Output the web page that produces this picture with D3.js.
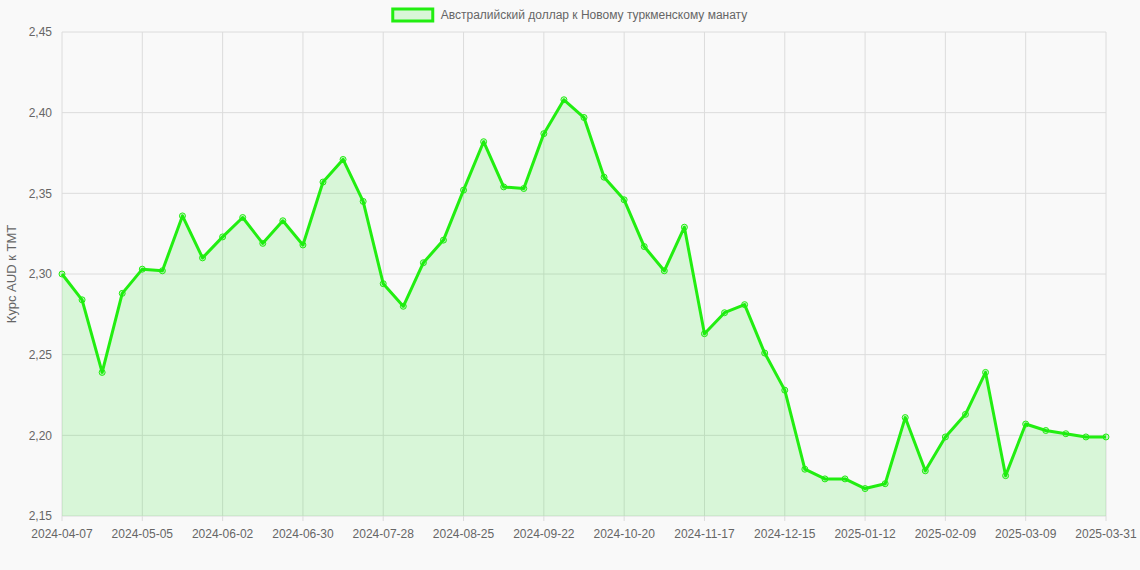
<!DOCTYPE html>
<html><head><meta charset="utf-8">
<script src="https://cdn.jsdelivr.net/npm/d3@7"></script>
<style>body{margin:0;background:#f9f9f9;font-family:"Helvetica Neue",Arial,"Liberation Sans",sans-serif}</style>
</head><body><div id="chart"></div>
<script>
const dates = ['2024-04-07','2024-04-14','2024-04-21','2024-04-28','2024-05-05','2024-05-12','2024-05-19','2024-05-26',
 '2024-06-02','2024-06-09','2024-06-16','2024-06-23','2024-06-30','2024-07-07','2024-07-14','2024-07-21',
 '2024-07-28','2024-08-04','2024-08-11','2024-08-18','2024-08-25','2024-09-01','2024-09-08','2024-09-15',
 '2024-09-22','2024-09-29','2024-10-06','2024-10-13','2024-10-20','2024-10-27','2024-11-03','2024-11-10',
 '2024-11-17','2024-11-24','2024-12-01','2024-12-08','2024-12-15','2024-12-22','2024-12-29','2025-01-05',
 '2025-01-12','2025-01-19','2025-01-26','2025-02-02','2025-02-09','2025-02-16','2025-02-23','2025-03-02',
 '2025-03-09','2025-03-16','2025-03-23','2025-03-30','2025-03-31']
const rates = [2.300,2.284,2.239,2.288,2.303,2.302,2.336,2.310,2.323,2.335,2.319,2.333,2.318,2.357,2.371,2.345,
 2.294,2.280,2.307,2.321,2.352,2.382,2.354,2.353,2.387,2.408,2.397,2.360,2.346,2.317,2.302,2.329,
 2.263,2.276,2.281,2.251,2.228,2.179,2.173,2.173,2.167,2.170,2.211,2.178,2.199,2.213,2.239,2.175,
 2.207,2.203,2.201,2.199,2.199]
const yTicks = [2.15,2.20,2.25,2.30,2.35,2.40,2.45]
const seriesName = 'Австралийский доллар к Новому туркменскому манату'

const W = 1140, H = 570, m = {l:62, r:34, t:32, b:54}
const svg = d3.select('#chart').append('svg').attr('width', W).attr('height', H)
const x = d3.scalePoint().domain(dates).range([m.l, W - m.r])
const y = d3.scaleLinear().domain([2.15, 2.45]).range([H - m.b, m.t])
const fmt = v => d3.format('.2f')(v).replace('.', ',')
const xLabels = dates.filter((d, i) => i % 4 === 0 || i === dates.length - 1)

// grid
svg.append('g').selectAll('line').data(yTicks).join('line')
  .attr('x1', m.l).attr('x2', W - m.r).attr('y1', d => y(d)).attr('y2', d => y(d))
  .attr('stroke', '#dcdcdc')
svg.append('g').selectAll('line').data(xLabels).join('line')
  .attr('x1', d => x(d)).attr('x2', d => x(d)).attr('y1', m.t).attr('y2', H - m.b + 5)
  .attr('stroke', '#dcdcdc')

// tick labels
svg.append('g').selectAll('text').data(yTicks).join('text')
  .attr('x', m.l - 10).attr('y', d => y(d)).attr('dy', '0.35em').attr('text-anchor', 'end')
  .attr('font-size', 12).attr('fill', '#666').text(fmt)
svg.append('g').selectAll('text').data(xLabels).join('text')
  .attr('x', d => x(d)).attr('y', H - m.b + 22).attr('text-anchor', 'middle')
  .attr('font-size', 12).attr('fill', '#666').text(d => d)

svg.append('text').attr('transform', `translate(16,${(m.t + H - m.b) / 2}) rotate(-90)`)
  .attr('text-anchor', 'middle').attr('font-size', 13).attr('fill', '#666').text('Курс AUD к TMT')

const pts = dates.map((d, i) => [x(d), y(rates[i])])
svg.append('path').datum(pts)
  .attr('d', d3.area().x(d => d[0]).y0(y(2.15)).y1(d => d[1]))
  .attr('fill', 'rgba(0,230,0,0.13)')
svg.append('path').datum(pts)
  .attr('d', d3.line())
  .attr('fill', 'none').attr('stroke', '#22ee11').attr('stroke-width', 3).attr('stroke-linejoin', 'round')
svg.append('g').selectAll('circle').data(pts).join('circle')
  .attr('cx', d => d[0]).attr('cy', d => d[1]).attr('r', 3)
  .attr('fill', 'rgba(0,230,0,0.2)').attr('stroke', '#22ee11').attr('stroke-width', 1)

// legend
const lg = svg.append('g')
const lt = lg.append('text').attr('x', 440).attr('y', 19).attr('font-size', 12).attr('fill', '#666').text(seriesName)
const tw = lt.node().getComputedTextLength()
const lx = (W - (tw + 48)) / 2
lt.attr('x', lx + 48)
lg.append('rect').attr('x', lx).attr('y', 9).attr('width', 40).attr('height', 12)
  .attr('fill', 'rgba(0,230,0,0.13)').attr('stroke', '#22ee11').attr('stroke-width', 3)
</script></body></html>
